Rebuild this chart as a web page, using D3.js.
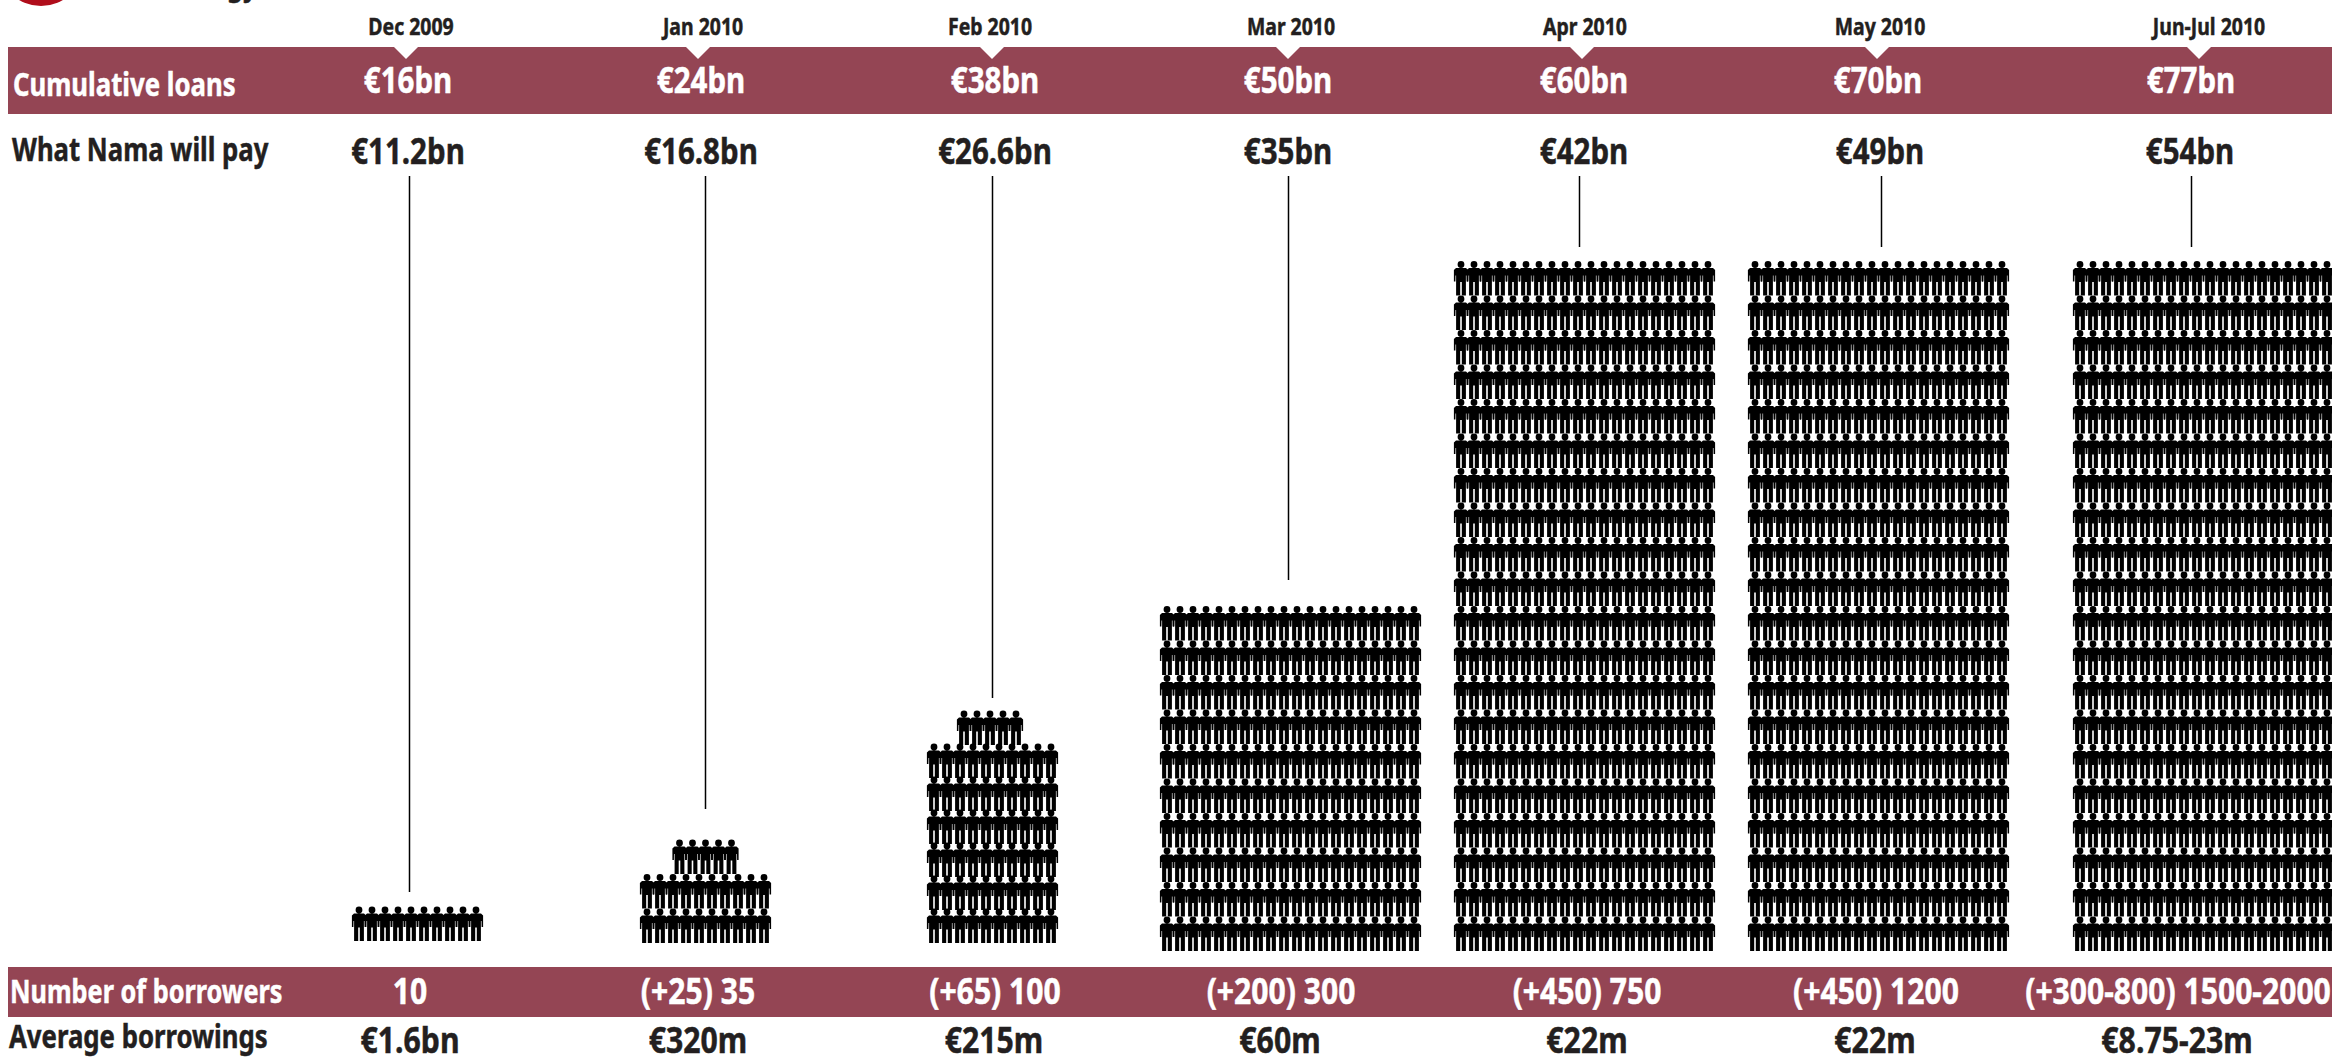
<!DOCTYPE html>
<html>
<head>
<meta charset="utf-8">
<title>Nama loan transfers</title>
<script src="https://cdn.jsdelivr.net/npm/d3@7/dist/d3.min.js"></script>
<style>
  html, body { margin: 0; padding: 0; background: #fff; overflow: hidden; }
  svg { display: block; }
  text { font-family: "Noto Sans", "Liberation Sans", sans-serif; font-weight: 700; stroke-width: 0.5; paint-order: stroke; }
</style>
</head>
<body>
<svg id="chart" width="2332" height="1058"></svg>
<script>
// Transfer tranches
const months = ["Dec 2009", "Jan 2010", "Feb 2010", "Mar 2010", "Apr 2010", "May 2010", "Jun-Jul 2010"];
const cumulativeLoans = [16, 24, 38, 50, 60, 70, 77];
const namaPays = [11.2, 16.8, 26.6, 35, 42, 49, 54];
const borrowerLabels = ["10", "(+25) 35", "(+65) 100", "(+200) 300", "(+450) 750", "(+450) 1200", "(+300-800) 1500-2000"];
const averageLabels = ["€1.6bn", "€320m", "€215m", "€60m", "€22m", "€22m", "€8.75-23m"];
const peopleDrawn = [10, 25, 65, 200, 400, 400, 400];
const peoplePerRow = [10, 10, 10, 20, 20, 20, 20];

// Page layout
const width = 2332, height = 1058;
const ink = "#231f20", band = "#944554", flag = "#b00d1b";
const topBand = { y: 47, h: 67 };
const bottomBand = { y: 967, h: 50 };
const monthCentres = [411, 703, 990, 1291, 1585, 1880, 2209];
const loanCentres = [408, 701, 995, 1288, 1584, 1878, 2191];
const notchCentres = [406, 698, 992, 1288, 1582, 1877, 2199];
const payCentres = [408, 701, 995, 1288, 1584, 1880, 2190];
const leaderCentres = [409, 705, 992, 1288, 1579, 1881, 2191];
const leaderEnds = [892, 809, 698, 580, 247, 247, 247];
const borrowerCentres = [410, 698, 995, 1281, 1587, 1876, 2178];
const averageCentres = [410, 698, 994, 1280, 1587, 1875, 2177];
const blockLefts = [359, 647, 934, 1167, 1461, 1755, 2080];
const blockFeet = [941, 943, 943, 951, 951, 951, 951];
const rowPitches = [34.5, 34.5, 33, 34.5, 34.5, 34.5, 34.5];
const capRowShifts = [0, 0, -2.5, 0, 0, 0, 0];
const columnPitch = 13, figureHeight = 34;

const svg = d3.select("#chart");
const at = (keys, values) => d3.scaleOrdinal(keys, values);
const xMonth = at(months, monthCentres), xLoan = at(months, loanCentres), xNotch = at(months, notchCentres);
const xPay = at(months, payCentres), xLeader = at(months, leaderCentres), yLeader = at(months, leaderEnds);
const xBorrower = at(months, borrowerCentres), xAverage = at(months, averageCentres);

const euroBn = v => `€${v}bn`;
const squeeze = (x, y, k) => `translate(${x},${y}) scale(${k},1)`;

// Masthead remnants along the top edge
svg.append("circle").attr("cx", 41).attr("cy", -37).attr("r", 43).attr("fill", flag);
svg.append("text").attr("transform", squeeze(264, -5, 0.8)).attr("text-anchor", "end")
  .attr("font-size", 32).attr("fill", ink).attr("stroke", ink).text("gy,");

// Bands
svg.append("rect").attr("x", 8).attr("y", topBand.y).attr("width", width - 8).attr("height", topBand.h).attr("fill", band);
svg.append("rect").attr("x", 8).attr("y", bottomBand.y).attr("width", width - 8).attr("height", bottomBand.h).attr("fill", band);

// White notches hanging from the top of the upper band
svg.append("g").selectAll("path").data(months).join("path")
  .attr("fill", "#fff")
  .attr("d", m => {
    const p = d3.path(), x = xNotch(m), half = 12;
    p.moveTo(x - half, topBand.y); p.lineTo(x + half, topBand.y); p.lineTo(x, topBand.y + 12); p.closePath();
    return p.toString();
  });

// Row captions
const captions = [
  ["Cumulative loans", 13, 96, 32, 0.805, "#fff"],
  ["What Nama will pay", 12, 161, 33, 0.78, ink],
  ["Number of borrowers", 10, 1003, 32, 0.79, "#fff"],
  ["Average borrowings", 9, 1048, 32, 0.805, ink]
];
svg.append("g").selectAll("text").data(captions).join("text")
  .attr("transform", d => squeeze(d[1], d[2], d[4])).attr("font-size", d => d[3])
  .attr("fill", d => d[5]).attr("stroke", d => d[5]).text(d => d[0]);

// Value rows
function valueRow(values, xScale, baseline, size, k, fill) {
  svg.append("g").attr("text-anchor", "middle").attr("font-size", size).attr("fill", fill).attr("stroke", fill)
    .selectAll("text").data(values).join("text")
    .attr("transform", (d, i) => squeeze(xScale(months[i]), baseline, k)).text(d => d);
}
valueRow(months, xMonth, 35, 24, 0.81, ink);
valueRow(cumulativeLoans.map(euroBn), xLoan, 93, 36, 0.82, "#fff");
valueRow(namaPays.map(euroBn), xPay, 164, 36, 0.82, ink);
valueRow(borrowerLabels, xBorrower, 1004, 35, 0.86, "#fff");
valueRow(averageLabels, xAverage, 1053, 36, 0.84, ink);

// Leader lines from the price down to each crowd
svg.append("g").attr("stroke", "#000").attr("stroke-width", 1.5)
  .selectAll("line").data(months).join("line")
  .attr("x1", m => xLeader(m) + 0.5).attr("x2", m => xLeader(m) + 0.5).attr("y1", 176).attr("y2", yLeader);

// Single person pictogram, centred on x = 0 with the head at y = 0
const person = (() => {
  const p = d3.path();
  p.moveTo(3.4, 3); p.arc(0, 3, 3.4, 0, 2 * Math.PI); p.closePath();
  // shoulders, arms and legs, traced clockwise from the left shoulder
  p.moveTo(-5, 6.5); p.lineTo(5, 6.5); p.lineTo(7.1, 8.5); p.lineTo(7.1, 20); p.lineTo(5.6, 20);
  p.lineTo(5.5, 14); p.lineTo(4.9, 14);
  p.lineTo(4.9, 34); p.lineTo(0.8, 34); p.lineTo(0.8, 20.5); p.lineTo(-0.8, 20.5); p.lineTo(-0.8, 34); p.lineTo(-4.9, 34);
  p.lineTo(-4.9, 14); p.lineTo(-5.5, 14); p.lineTo(-5.6, 20); p.lineTo(-7.1, 20); p.lineTo(-7.1, 8.5); p.closePath();
  return p.toString();
})();

// Crowds: full rows from the bottom up, any remainder centred on top
months.forEach((m, i) => {
  const perRow = peoplePerRow[i], rows = Math.ceil(peopleDrawn[i] / perRow);
  const x = d3.scaleLinear().domain([0, perRow - 1]).range([blockLefts[i], blockLefts[i] + (perRow - 1) * columnPitch]);
  const y = d3.scaleLinear().domain([0, rows]).range([blockFeet[i], blockFeet[i] - rows * rowPitches[i]]);
  const people = d3.range(peopleDrawn[i]).map(n => {
    const row = Math.floor(n / perRow);
    const inRow = row === rows - 1 ? peopleDrawn[i] - row * perRow : perRow;
    const shift = inRow < perRow ? capRowShifts[i] : 0;
    return { col: (n % perRow) + (perRow - inRow) / 2, row, shift };
  });
  svg.append("g").attr("fill", "#000").selectAll("path").data(people).join("path")
    .attr("d", person)
    .attr("transform", d => `translate(${x(d.col) + d.shift},${y(d.row) - figureHeight})`);
});
</script>
</body>
</html>
